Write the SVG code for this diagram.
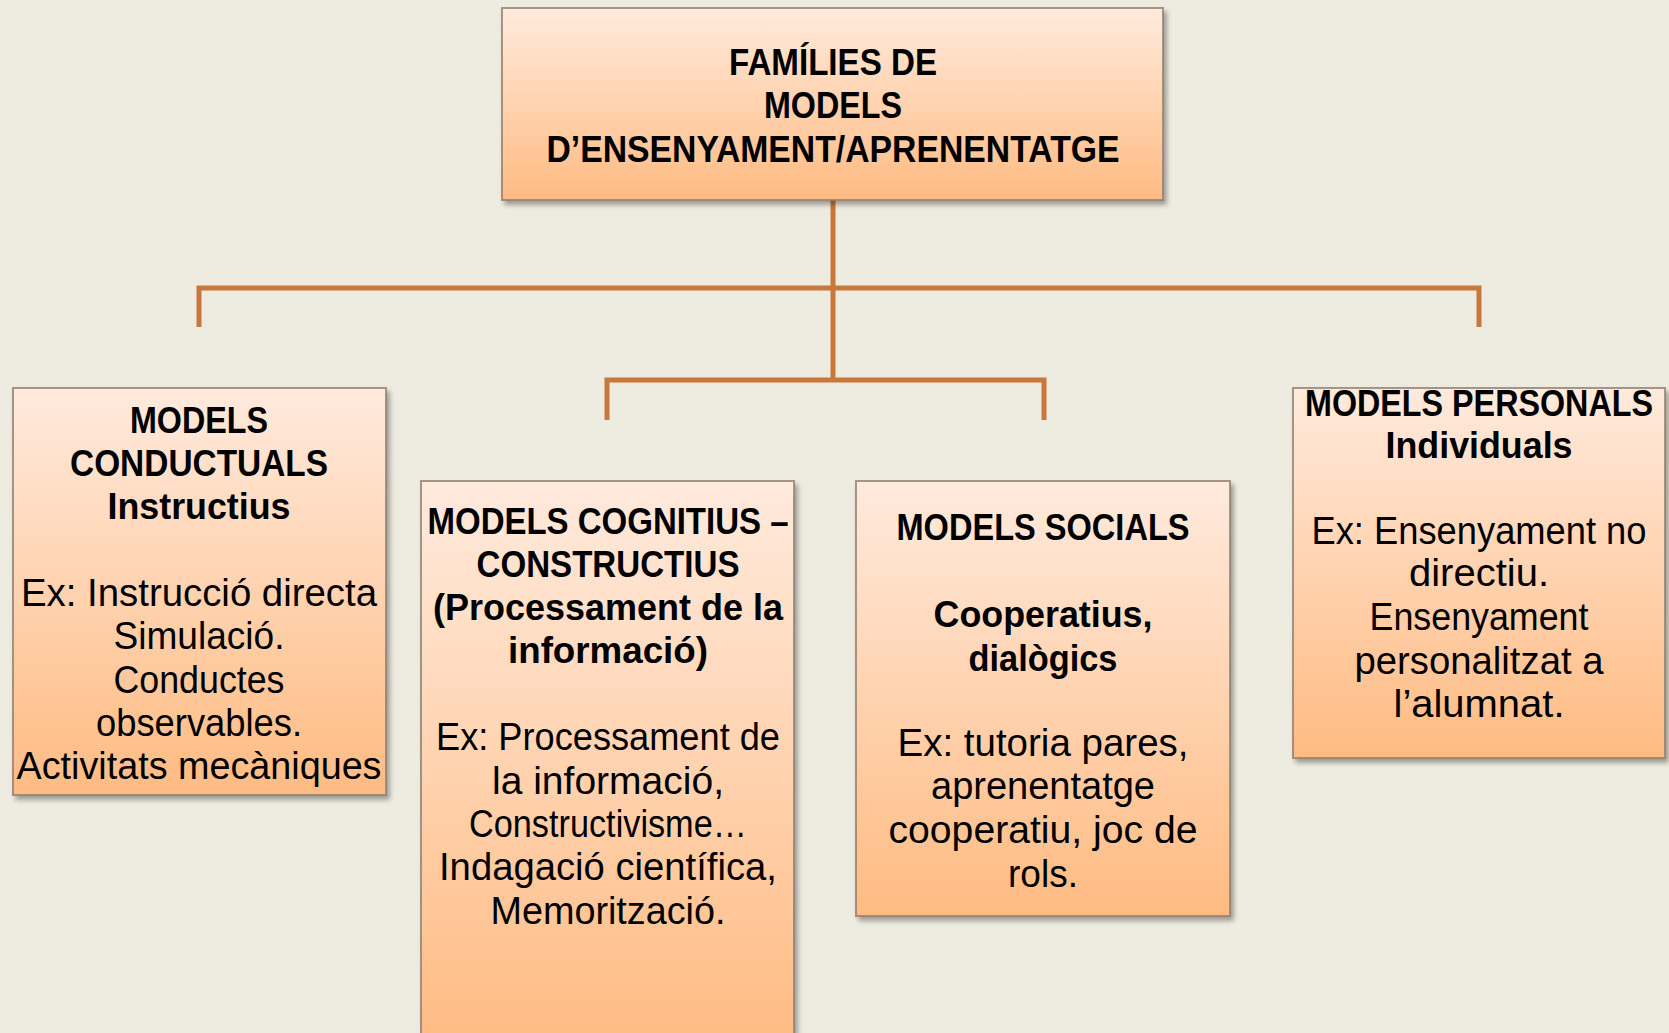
<svg xmlns="http://www.w3.org/2000/svg" width="1669" height="1033" viewBox="0 0 1669 1033">
<style>
.box{fill:url(#g);stroke:#8a7a6a;stroke-opacity:0.75;stroke-width:2;filter:url(#sh)}
.b{font-family:"Liberation Sans",Arial,sans-serif;font-weight:bold;font-size:37px;fill:#000;text-anchor:middle}
.r{font-family:"Liberation Sans",Arial,sans-serif;font-size:38px;fill:#000;text-anchor:middle}
.c{fill:none;stroke:#C8783A;stroke-width:5}
</style>
<defs>
<linearGradient id="g" x1="0" y1="0" x2="0" y2="1">
<stop offset="0" stop-color="#FFEADD"/>
<stop offset="1" stop-color="#FFBB82"/>
</linearGradient>
<filter id="sh" x="-5%" y="-5%" width="115%" height="115%">
<feDropShadow dx="3" dy="4" stdDeviation="2.5" flood-color="#000" flood-opacity="0.35"/>
</filter>
</defs>
<rect width="1669" height="1033" fill="#EEEBE0"/>
<g id="connectors">
<path class="c" d="M833,200 V380"/>
<path class="c" d="M199,327 V288 H1479 V327"/>
<path class="c" d="M607,420 V380 H1044 V420"/>
</g>
<g id="top">
<rect class="box" x="502" y="8" width="661" height="192"/>
<text class="b" x="833" y="75" textLength="208" lengthAdjust="spacingAndGlyphs">FAMÍLIES DE</text>
<text class="b" x="833" y="118" textLength="138" lengthAdjust="spacingAndGlyphs">MODELS</text>
<text class="b" x="833" y="162" textLength="573" lengthAdjust="spacingAndGlyphs">D’ENSENYAMENT/APRENENTATGE</text>
</g>
<g id="conductuals">
<rect class="box" x="13" y="388" width="373" height="407"/>
<text class="b" x="199" y="433" textLength="138" lengthAdjust="spacingAndGlyphs">MODELS</text>
<text class="b" x="199" y="476" textLength="258" lengthAdjust="spacingAndGlyphs">CONDUCTUALS</text>
<text class="b" x="199" y="519" textLength="183" lengthAdjust="spacingAndGlyphs">Instructius</text>
<text class="r" x="199" y="606" textLength="356" lengthAdjust="spacingAndGlyphs">Ex: Instrucció directa</text>
<text class="r" x="199" y="649" textLength="171" lengthAdjust="spacingAndGlyphs">Simulació.</text>
<text class="r" x="199" y="693" textLength="171" lengthAdjust="spacingAndGlyphs">Conductes</text>
<text class="r" x="199" y="736" textLength="206" lengthAdjust="spacingAndGlyphs">observables.</text>
<text class="r" x="199" y="779" textLength="365" lengthAdjust="spacingAndGlyphs">Activitats mecàniques</text>
</g>
<g id="cognitius">
<rect class="box" x="421" y="481" width="373" height="570"/>
<text class="b" x="608" y="534" textLength="361" lengthAdjust="spacingAndGlyphs">MODELS COGNITIUS –</text>
<text class="b" x="608" y="577" textLength="263" lengthAdjust="spacingAndGlyphs">CONSTRUCTIUS</text>
<text class="b" x="608" y="620" textLength="350" lengthAdjust="spacingAndGlyphs">(Processament de la</text>
<text class="b" x="608" y="663" textLength="200" lengthAdjust="spacingAndGlyphs">informació)</text>
<text class="r" x="608" y="750" textLength="344" lengthAdjust="spacingAndGlyphs">Ex: Processament de</text>
<text class="r" x="608" y="794" textLength="232" lengthAdjust="spacingAndGlyphs">la informació,</text>
<text class="r" x="608" y="837" textLength="278" lengthAdjust="spacingAndGlyphs">Constructivisme…</text>
<text class="r" x="608" y="880" textLength="338" lengthAdjust="spacingAndGlyphs">Indagació científica,</text>
<text class="r" x="608" y="924" textLength="235" lengthAdjust="spacingAndGlyphs">Memorització.</text>
</g>
<g id="socials">
<rect class="box" x="856" y="481" width="374" height="435"/>
<text class="b" x="1043" y="540" textLength="293" lengthAdjust="spacingAndGlyphs">MODELS SOCIALS</text>
<text class="b" x="1043" y="627" textLength="219" lengthAdjust="spacingAndGlyphs">Cooperatius,</text>
<text class="b" x="1043" y="671" textLength="149" lengthAdjust="spacingAndGlyphs">dialògics</text>
<text class="r" x="1043" y="756" textLength="291" lengthAdjust="spacingAndGlyphs">Ex: tutoria pares,</text>
<text class="r" x="1043" y="799" textLength="224" lengthAdjust="spacingAndGlyphs">aprenentatge</text>
<text class="r" x="1043" y="843" textLength="309" lengthAdjust="spacingAndGlyphs">cooperatiu, joc de</text>
<text class="r" x="1043" y="887" textLength="70" lengthAdjust="spacingAndGlyphs">rols.</text>
</g>
<g id="personals">
<rect class="box" x="1293" y="388" width="372" height="370"/>
<text class="b" x="1479" y="416" textLength="348" lengthAdjust="spacingAndGlyphs">MODELS PERSONALS</text>
<text class="b" x="1479" y="458" textLength="187" lengthAdjust="spacingAndGlyphs">Individuals</text>
<text class="r" x="1479" y="544" textLength="335" lengthAdjust="spacingAndGlyphs">Ex: Ensenyament no</text>
<text class="r" x="1479" y="586" textLength="140" lengthAdjust="spacingAndGlyphs">directiu.</text>
<text class="r" x="1479" y="630" textLength="219" lengthAdjust="spacingAndGlyphs">Ensenyament</text>
<text class="r" x="1479" y="674" textLength="249" lengthAdjust="spacingAndGlyphs">personalitzat a</text>
<text class="r" x="1479" y="717" textLength="171" lengthAdjust="spacingAndGlyphs">l’alumnat.</text>
</g>
</svg>
